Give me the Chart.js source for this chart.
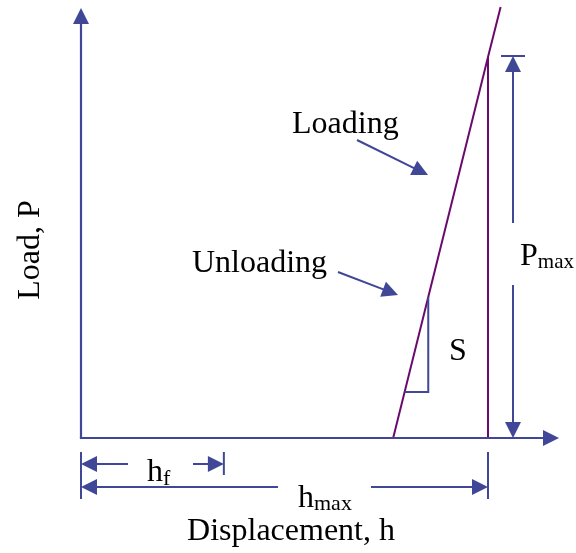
<!DOCTYPE html>
<html><head><meta charset="utf-8">
<script src="https://cdn.jsdelivr.net/npm/chart.js@4/dist/chart.umd.min.js"></script>
<style>html,body{margin:0;padding:0;background:#fff}canvas{display:block}</style>
</head><body>
<canvas id="c" width="576" height="553"></canvas>
<script>
// Normalized schematic data: displacement h / h_max, load P / P_max
const curveH = [0.767, 1.0, 1.031];
const curveP = [0, 1.0, 1.131];
const unloadH = [1.0, 1.0];
const unloadP = [0, 1.0];
const hMax = 1.0;
const pMax = 1.0;
const hF = 0.351;
const stiffP = [0.37, 0.1207];   // load range of the stiffness triangle S
const textLoading = 'Loading';
const textUnloading = 'Unloading';
const textS = 'S';
const textYAxis = 'Load, P';
const textXAxis = 'Displacement, h';

const BLUE = '#3f4796';
const PURPLE = '#6b0a6e';
const FONT = '"Liberation Serif", "Times New Roman", serif';

// interpolate h on the loading line for a given P
function hOnCurve(p){
  for(let i=0;i<curveP.length-1;i++){
    if(p>=curveP[i] && p<=curveP[i+1]){
      const t=(p-curveP[i])/(curveP[i+1]-curveP[i]);
      return curveH[i]+t*(curveH[i+1]-curveH[i]);
    }
  }
  return curveH[0];
}

const schematic = {
  id:'schematic',
  afterDatasetsDraw(chart){
    const ctx=chart.ctx, xs=chart.scales.x, ys=chart.scales.y;
    const X=v=>xs.getPixelForValue(v), Y=v=>ys.getPixelForValue(v);
    ctx.save();
    ctx.strokeStyle=BLUE; ctx.fillStyle=BLUE; ctx.lineCap='butt';

    function line(h1,p1,h2,p2,w){
      ctx.lineWidth=w||2;
      ctx.beginPath(); ctx.moveTo(X(h1),Y(p1)); ctx.lineTo(X(h2),Y(p2)); ctx.stroke();
    }
    // arrow from (h1,p1) to tip (h2,p2)
    function arrow(h1,p1,h2,p2,w,len,half){
      len=len||16; half=half||8;
      const x1=X(h1),y1=Y(p1),x2=X(h2),y2=Y(p2);
      const d=Math.hypot(x2-x1,y2-y1), ux=(x2-x1)/d, uy=(y2-y1)/d;
      const bx=x2-ux*len, by=y2-uy*len;
      ctx.lineWidth=w||2;
      ctx.beginPath(); ctx.moveTo(x1,y1); ctx.lineTo(bx+ux*1,by+uy*1); ctx.stroke();
      ctx.beginPath();
      ctx.moveTo(x2,y2);
      ctx.lineTo(bx-uy*half,by+ux*half);
      ctx.lineTo(bx+uy*half,by-ux*half);
      ctx.closePath(); ctx.fill();
    }
    function text(str,h,p,size,align){
      ctx.fillStyle='#000';
      ctx.font=size+'px '+FONT; ctx.textAlign=align||'left'; ctx.textBaseline='alphabetic';
      ctx.fillText(str,X(h),Y(p));
      ctx.fillStyle=BLUE;
    }
    function subText(main,sub,h,p,size,subSize,off){
      ctx.fillStyle='#000'; ctx.textAlign='left'; ctx.textBaseline='alphabetic';
      ctx.font=size+'px '+FONT;
      const w=ctx.measureText(main).width;
      ctx.fillText(main,X(h),Y(p));
      ctx.font=subSize+'px '+FONT;
      ctx.fillText(sub,X(h)+w,Y(p)+off);
      ctx.fillStyle=BLUE;
    }

    // axes
    arrow(0,0,0,1.1286,2.2,16,8);
    ctx.lineWidth=2.2;
    ctx.beginPath(); ctx.moveTo(X(0)-1.1,Y(0)); ctx.lineTo(X(1.1744)-15,Y(0)); ctx.stroke();
    arrow(0,0,1.1744,0,2.2,16,8);

    // P_max dimension
    const px=1.0614, pTop=pMax+0.0026;
    arrow(px,0.5643,px,pTop,2,16,8);
    arrow(px,0.4016,px,0,2,16,8);
    line(1.0319,pTop,1.0909,pTop,2);
    subText('P','max',1.0786,0.4541,32,21,3);

    // h_f dimension
    const pf=-0.0682;
    arrow(0.1155,pf,0,pf,2,16,8);
    arrow(0.2752,pf,hF,pf,2,16,8);
    subText('h','f',0.1622,-0.1129,32,22,4);

    // h_max dimension
    const pm=-0.1286;
    arrow(0.4840,pm,0,pm,2,16,8);
    arrow(0.7125,pm,hMax,pm,2,16,8);
    subText('h','max',0.5332,-0.1811,32,22,3);

    // ticks
    line(0,-0.0367,0,-0.1601,2);
    line(hF,-0.0367,hF,-0.0971,2);
    line(hMax,-0.0367,hMax,-0.1601,2);

    // labels with arrows
    text(textLoading,0.5184,0.8005,32);
    arrow(0.6781,0.7822,0.8526,0.6903,2,16,8);
    text(textUnloading,0.2727,0.4357,32);
    arrow(0.6314,0.4357,0.7789,0.3753,2,16,8);

    // stiffness triangle
    const hTop=hOnCurve(stiffP[0]), hBot=hOnCurve(stiffP[1]);
    ctx.lineWidth=2;
    ctx.beginPath();
    ctx.moveTo(X(hTop),Y(stiffP[0]));
    ctx.lineTo(X(hTop),Y(stiffP[1]));
    ctx.lineTo(X(hBot),Y(stiffP[1]));
    ctx.stroke();
    text(textS,0.9042,0.2047,32);

    // axis titles
    text(textXAxis,0.516,-0.2677,32,'center');
    ctx.save();
    ctx.translate(X(-0.1032),Y(0.4934));
    ctx.rotate(-Math.PI/2);
    ctx.fillStyle='#000'; ctx.font='32px '+FONT; ctx.textAlign='center'; ctx.textBaseline='alphabetic';
    ctx.fillText(textYAxis,0,0);
    ctx.restore();

    ctx.restore();
  }
};

new Chart(document.getElementById('c'),{
  type:'scatter',
  data:{datasets:[
    {data:curveH.map((h,i)=>({x:h,y:curveP[i]})),showLine:true,borderColor:PURPLE,borderWidth:2,pointRadius:0,fill:false},
    {data:unloadH.map((h,i)=>({x:h,y:unloadP[i]})),showLine:true,borderColor:PURPLE,borderWidth:2,pointRadius:0,fill:false}
  ]},
  options:{
    responsive:false,animation:false,
    layout:{padding:0},
    plugins:{legend:{display:false},tooltip:{enabled:false},title:{display:false}},
    scales:{
      x:{type:'linear',min:-0.199,max:1.2162,display:false},
      y:{type:'linear',min:-0.30184,max:1.14961,display:false}
    }
  },
  plugins:[schematic]
});
</script>
</body></html>
